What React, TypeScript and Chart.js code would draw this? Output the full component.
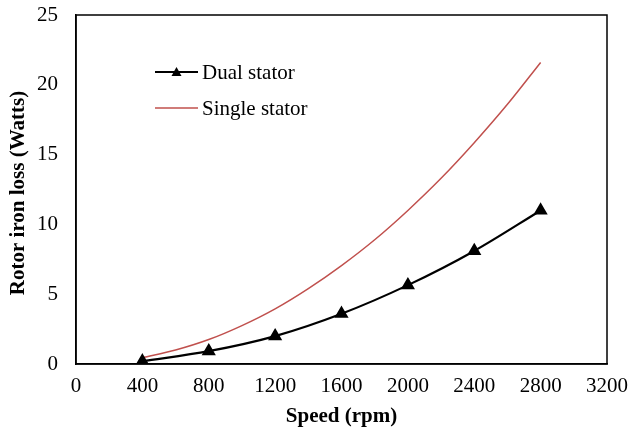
import React, { useEffect, useRef } from "react";
import { Chart, registerables } from "chart.js";

Chart.register(...registerables);

const dualSpeeds = [400, 800, 1200, 1600, 2000, 2400, 2800];
const dualLoss = [0.2, 0.92, 2.0, 3.6, 5.65, 8.1, 11.0];

const singleSpeeds = [400, 600, 800, 1000, 1200, 1400, 1600, 1800, 2000, 2200, 2400, 2600, 2800];
const singleLoss = [0.45, 1.0, 1.75, 2.75, 3.95, 5.4, 7.05, 8.9, 11.0, 13.3, 15.85, 18.6, 21.6];

const xTicks = [0, 400, 800, 1200, 1600, 2000, 2400, 2800, 3200];
const yTicks = [0, 5, 10, 15, 20, 25];

const seriesLabels = ["Dual stator", "Single stator"];
const seriesColors = ["#000000", "#c0504d"];
const xTitle = "Speed (rpm)";
const yTitle = "Rotor iron loss (Watts)";

const FONT = "'Liberation Serif', 'Times New Roman', serif";

const boxAndLegend = {
  id: "boxAndLegend",
  afterDraw(chart: any) {
    const { ctx, chartArea } = chart;
    ctx.save();
    ctx.strokeStyle = "#000";
    ctx.lineWidth = 1.5;
    ctx.strokeRect(chartArea.left, chartArea.top, chartArea.right - chartArea.left, chartArea.bottom - chartArea.top);
    // axis titles
    ctx.fillStyle = "#000";
    ctx.font = `bold 21px ${FONT}`;
    ctx.textAlign = "center";
    ctx.textBaseline = "middle";
    ctx.fillText(xTitle, (chartArea.left + chartArea.right) / 2, 417);
    ctx.save();
    ctx.translate(19, 193);
    ctx.rotate(-Math.PI / 2);
    ctx.fillText(yTitle, 0, 0);
    ctx.restore();
    // legend
    const x0 = 155, x1 = 198;
    const rows = [72, 108];
    ctx.font = `21px ${FONT}`;
    ctx.textAlign = "left";
    ctx.textBaseline = "middle";
    rows.forEach((y, i) => {
      ctx.strokeStyle = seriesColors[i];
      ctx.lineWidth = i === 0 ? 2 : 1.5;
      ctx.beginPath();
      ctx.moveTo(x0, y);
      ctx.lineTo(x1, y);
      ctx.stroke();
      if (i === 0) {
        const cx = (x0 + x1) / 2;
        ctx.beginPath();
        ctx.moveTo(cx, y - 5);
        ctx.lineTo(cx + 5, y + 4);
        ctx.lineTo(cx - 5, y + 4);
        ctx.closePath();
        ctx.fillStyle = "#000";
        ctx.fill();
      }
      ctx.fillStyle = "#000";
      ctx.fillText(seriesLabels[i], 202, y + 1);
    });
    ctx.restore();
  },
};

export default function App() {
  const ref = useRef<HTMLCanvasElement>(null);
  useEffect(() => {
    if (!ref.current) return;
    const chart = new Chart(ref.current, {
      type: "scatter",
      data: {
        datasets: [
          {
            label: seriesLabels[0],
            data: dualSpeeds.map((s, i) => ({ x: s, y: dualLoss[i] })),
            showLine: true,
            borderColor: seriesColors[0],
            backgroundColor: seriesColors[0],
            borderWidth: 2.2,
            pointStyle: "triangle",
            pointRadius: 6,
            cubicInterpolationMode: "monotone",
          },
          {
            label: seriesLabels[1],
            data: singleSpeeds.map((s, i) => ({ x: s, y: singleLoss[i] })),
            showLine: true,
            borderColor: seriesColors[1],
            backgroundColor: seriesColors[1],
            borderWidth: 1.5,
            pointRadius: 0,
            cubicInterpolationMode: "monotone",
          },
        ],
      },
      options: {
        animation: false,
        responsive: false,
        maintainAspectRatio: false,
        layout: { padding: { left: 0, top: 15, right: 22, bottom: 0 } },
        plugins: { legend: { display: false }, tooltip: { enabled: false } },
        scales: {
          x: {
            type: "linear",
            min: 0,
            max: 3200,
            afterBuildTicks: (axis: any) => {
              axis.ticks = xTicks.map((v) => ({ value: v }));
            },
            afterFit: (axis: any) => {
              axis.height = 68;
              axis.paddingLeft = 0;
              axis.paddingRight = 0;
            },
            grid: { display: false, drawTicks: true, tickLength: 6, tickColor: "#000", tickWidth: 1.5 },
            border: { color: "#000", width: 1.5 },
            ticks: { color: "#000", font: { family: FONT, size: 21 }, padding: 4, maxRotation: 0, callback: (v: any) => String(v) },
            title: { display: false },
          },
          y: {
            type: "linear",
            min: 0,
            max: 25,
            afterBuildTicks: (axis: any) => {
              axis.ticks = yTicks.map((v) => ({ value: v }));
            },
            afterFit: (axis: any) => {
              axis.width = 76;
              axis.paddingTop = 0;
              axis.paddingBottom = 0;
            },
            grid: { display: false, drawTicks: true, tickLength: 6, tickColor: "#000", tickWidth: 1.5 },
            border: { color: "#000", width: 1.5 },
            ticks: { color: "#000", font: { family: FONT, size: 21 }, padding: 12, callback: (v: any) => String(v) },
            title: { display: false },
          },
        },
      },
      plugins: [boxAndLegend],
    } as any);
    return () => chart.destroy();
  }, []);
  return (
    <div style={{ position: "fixed", left: 0, top: 0, width: 629, height: 432, background: "#fff" }}>
      <canvas ref={ref} width={629} height={432} style={{ width: 629, height: 432 }} />
    </div>
  );
}
